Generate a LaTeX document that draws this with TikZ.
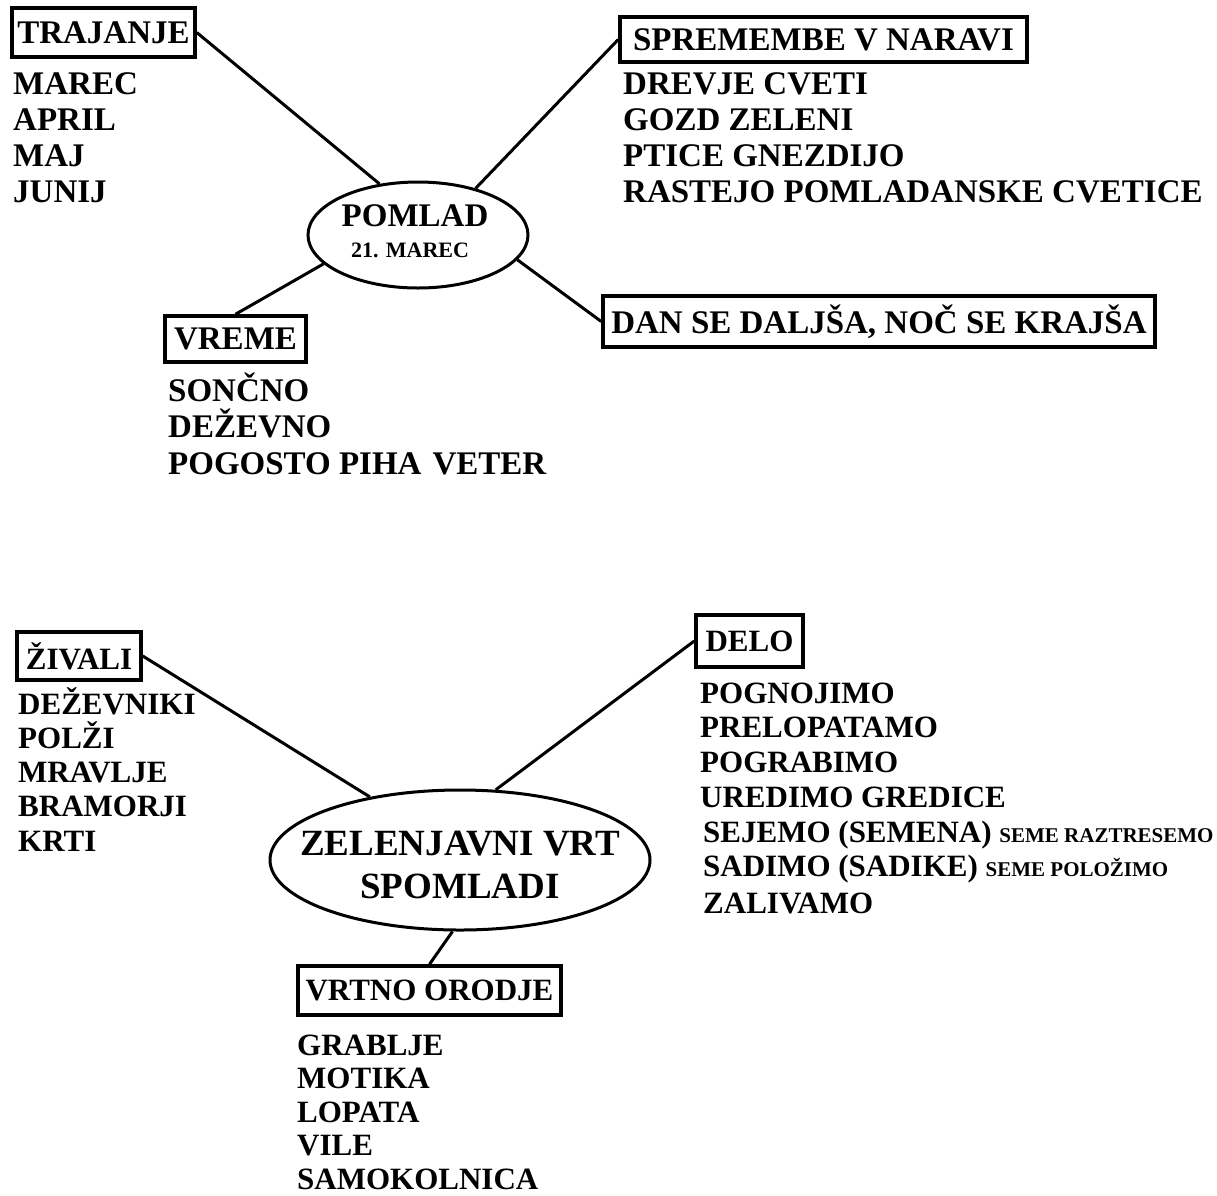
\documentclass[tikz,border=0pt]{standalone}
\usepackage{fontspec}
\setmainfont{Liberation Serif}
\usetikzlibrary{shapes.geometric}

\newcommand\bigtxt{\fontsize{33}{36}\selectfont\bfseries}
\newcommand\midtxt{\fontsize{31}{34}\selectfont\bfseries}
\newcommand\hubtxt{\fontsize{37}{43}\selectfont\bfseries}
\newcommand\smalltxt{\fontsize{22}{26}\selectfont\bfseries}
\newcommand\tinytxt{\fontsize{21}{24}\selectfont\bfseries}

\tikzset{
	box/.style = {rectangle, draw, line width=3.5pt, inner sep=0pt},
	hub/.style = {ellipse, draw, line width=3pt, inner sep=0pt},
	item/.style = {anchor=base west, inner sep=0pt},
	word/.style = {anchor=base, inner sep=0pt},
	line/.style = {draw, line width=3pt}
}

\begin{document}
\begin{tikzpicture}[x=1pt, y=-1pt]
	\useasboundingbox (0,0) rectangle (1217,1195);
	
	%pomlad
	\node [hub, minimum width=220pt, minimum height=106pt] (pomlad) at (418,235) {};
	\node [word, font=\bigtxt] (pomlad-a) at (415,226) {POMLAD};
	\node [word, font=\smalltxt] (pomlad-b) at (410,257) {21. MAREC};
	
	\node [box, font=\bigtxt, minimum width=183pt, minimum height=49pt] (trajanje) at (103.5,32.5) {TRAJANJE};
	\node [box, font=\bigtxt, minimum width=407pt, minimum height=45pt] (spremembe) at (823.5,39.5) {SPREMEMBE V NARAVI};
	\node [box, font=\bigtxt, minimum width=141pt, minimum height=46pt] (vreme) at (235.5,339) {VREME};
	\node [box, font=\bigtxt, minimum width=552pt, minimum height=51pt] (dan) at (879,321.5) {DAN SE DALJŠA, NOČ SE KRAJŠA};
	
	\foreach \t [count=\i from 0] in {MAREC, APRIL, MAJ, JUNIJ}
		\node [item, font=\bigtxt] (trajanje-\i) at (13,94+36*\i) {\t};
	\foreach \t [count=\i from 0] in {DREVJE CVETI, GOZD ZELENI, PTICE GNEZDIJO, RASTEJO POMLADANSKE CVETICE}
		\node [item, font=\bigtxt] (spremembe-\i) at (623,94+36*\i) {\t};
	\foreach \t [count=\i from 0] in {SONČNO, DEŽEVNO, POGOSTO PIHA\hspace{11pt}VETER}
		\node [item, font=\bigtxt] (vreme-\i) at (168,401+36.5*\i) {\t};
	
	\path [line] (trajanje.east) -- (pomlad.127);
	\path [line] (spremembe.west) -- (pomlad.39);
	\path [line] (vreme.north) -- (pomlad.197);
	\path [line] (dan.west) -- (pomlad.346);
	
	%vrt
	\node [hub, minimum width=380pt, minimum height=140pt] (vrt) at (460,860) {};
	\node [word, font=\hubtxt] (vrt-a) at (460,855) {ZELENJAVNI VRT};
	\node [word, font=\hubtxt] (vrt-b) at (460,898) {SPOMLADI};
	
	\node [box, font=\midtxt, minimum width=124pt, minimum height=48pt] (zivali) at (79,656) {ŽIVALI};
	\node [box, font=\midtxt, minimum width=107pt, minimum height=52pt] (delo) at (749.5,641) {DELO};
	\node [box, font=\midtxt, minimum width=263pt, minimum height=49pt] (orodje) at (429.5,990.5) {VRTNO ORODJE};
	
	\foreach \t [count=\i from 0] in {DEŽEVNIKI, POLŽI, MRAVLJE, BRAMORJI, KRTI}
		\node [item, font=\midtxt] (zivali-\i) at (18,714+34.3*\i) {\t};
	\foreach \t [count=\i from 0] in {GRABLJE, MOTIKA, LOPATA, VILE, SAMOKOLNICA}
		\node [item, font=\midtxt] (orodje-\i) at (297,1055+33.6*\i) {\t};
	
	\node [item, font=\midtxt] (delo-0) at (700,703) {POGNOJIMO};
	\node [item, font=\midtxt] (delo-1) at (700,737) {PRELOPATAMO};
	\node [item, font=\midtxt] (delo-2) at (700,772) {POGRABIMO};
	\node [item, font=\midtxt] (delo-3) at (700,807) {UREDIMO GREDICE};
	\node [item, font=\midtxt] (delo-4) at (703,842) {SEJEMO (SEMENA) {\tinytxt SEME RAZTRESEMO}};
	\node [item, font=\midtxt] (delo-5) at (703,876) {SADIMO (SADIKE) {\tinytxt SEME POLOŽIMO}};
	\node [item, font=\midtxt] (delo-6) at (703,913) {ZALIVAMO};
	
	\path [line] (zivali.east) -- (vrt.145);
	\path [line] (delo.west) -- (vrt.63);
	\path [line] (orodje.north) -- (vrt.264);
	
\end{tikzpicture}
\end{document}
